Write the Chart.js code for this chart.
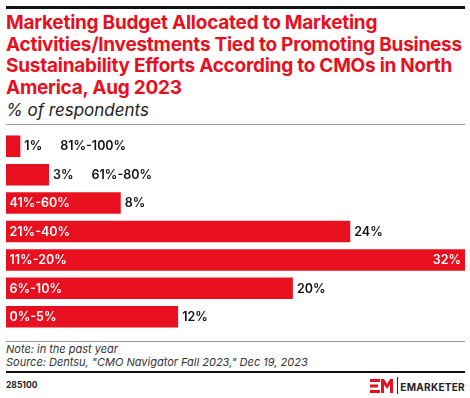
<!DOCTYPE html>
<html>
<head>
<meta charset="utf-8">
<script src="https://cdn.jsdelivr.net/npm/chart.js@4.4.0/dist/chart.umd.min.js"></script>
<style>
  html, body { margin: 0; padding: 0; background: #fff; }
  body { width: 470px; height: 398px; position: relative; overflow: hidden; font-family: Inter, "Open Sans", sans-serif; }
  .rule { position: absolute; left: 6px; right: 5px; }
  #title { position: absolute; left: 6px; top: 12px; width: 470px; color: #e8101e; font-weight: 700; font-size: 19px; line-height: 21.5px; letter-spacing: -0.25px; white-space: nowrap; }
  #subtitle { position: absolute; left: 6px; top: 100px; font-size: 17px; font-style: italic; color: #222; }
  #chartWrap { position: absolute; left: 0; top: 132px; width: 470px; height: 199px; }
  #note { position: absolute; left: 6px; top: 343px; font-size: 11px; line-height: 13px; font-style: italic; color: #333; }
  #id { position: absolute; left: 6px; top: 380px; font-size: 8.5px; font-weight: 700; color: #222; }
  #brand { position: absolute; right: 5px; top: 381px; font-size: 10px; font-weight: 700; color: #222; letter-spacing: 0.3px; }
</style>
</head>
<body>
<div class="rule" style="top:6px;height:3px;background:#111;"></div>
<div id="title">Marketing Budget Allocated to Marketing<br>Activities/Investments Tied to Promoting Business<br>Sustainability Efforts According to CMOs in North<br>America, Aug 2023</div>
<div id="subtitle">% of respondents</div>
<div class="rule" style="top:124px;height:1px;background:#999;"></div>
<div id="chartWrap"><canvas id="chart"></canvas></div>
<div class="rule" style="top:341px;height:1px;background:#999;"></div>
<div id="note">Note: in the past year<br>Source: Dentsu, "CMO Navigator Fall 2023," Dec 19, 2023</div>
<div class="rule" style="top:371px;height:2px;background:#111;"></div>
<div id="id">285100</div>
<svg style="position:absolute;left:370px;top:379px" width="24" height="14" viewBox="0 0 24 14">
  <rect x="0" y="0" width="10" height="3" fill="#e8101e"/>
  <rect x="0" y="5.5" width="8" height="3" fill="#e8101e"/>
  <rect x="0" y="11" width="10" height="3" fill="#e8101e"/>
  <path d="M11 14 L11 0 L14 0 L17 5 L20 0 L23 0 L23 14 L20 14 L20 5.5 L17 10 L14 5.5 L14 14 Z" fill="#e8101e"/>
</svg>
<div style="position:absolute;left:397px;top:377px;width:1px;height:17px;background:#222;"></div>
<div id="brand">EMARKETER</div>
<script>
const categories = ['81%-100%', '61%-80%', '41%-60%', '21%-40%', '11%-20%', '6%-10%', '0%-5%'];
const values = [1, 3, 8, 24, 32, 20, 12];
const valueLabels = values.map(v => v + '%');

const barLabels = {
  id: 'barLabels',
  afterDatasetsDraw(chart) {
    const ctx = chart.ctx;
    const meta = chart.getDatasetMeta(0);
    ctx.save();
    ctx.font = '600 12.5px Inter, "Open Sans", sans-serif';
    ctx.textBaseline = 'middle';
    meta.data.forEach((bar, i) => {
      const left = bar.base;
      const right = bar.x;
      const y = bar.y + 0.5;
      const cat = categories[i];
      const val = valueLabels[i];
      const catW = ctx.measureText(cat).width;
      const valW = ctx.measureText(val).width;
      const valInside = right + 4 + valW > chart.chartArea.right;
      let nextX;
      if (valInside) {
        ctx.fillStyle = '#fff';
        ctx.textAlign = 'right';
        ctx.fillText(val, right - 4, y);
        nextX = null;
      } else {
        ctx.fillStyle = '#111';
        ctx.textAlign = 'left';
        ctx.fillText(val, right + 4, y);
        nextX = right + 4 + valW + 18;
      }
      ctx.textAlign = 'left';
      if (catW + 8 < right - left) {
        ctx.fillStyle = '#fff';
        ctx.fillText(cat, left + 3.5, y);
      } else {
        ctx.fillStyle = '#111';
        ctx.fillText(cat, nextX, y);
      }
    });
    ctx.restore();
  }
};

new Chart(document.getElementById('chart'), {
  type: 'bar',
  data: {
    labels: categories,
    datasets: [{
      data: values,
      backgroundColor: '#e8101e',
      barPercentage: 0.757,
      categoryPercentage: 1
    }]
  },
  options: {
    indexAxis: 'y',
    responsive: true,
    maintainAspectRatio: false,
    animation: false,
    layout: { padding: { left: 6, right: 5, top: 0, bottom: 0 } },
    plugins: { legend: { display: false }, tooltip: { enabled: false } },
    scales: {
      x: { display: false, min: 0, max: 32 },
      y: { display: false }
    }
  },
  plugins: [barLabels]
});
</script>
</body>
</html>
